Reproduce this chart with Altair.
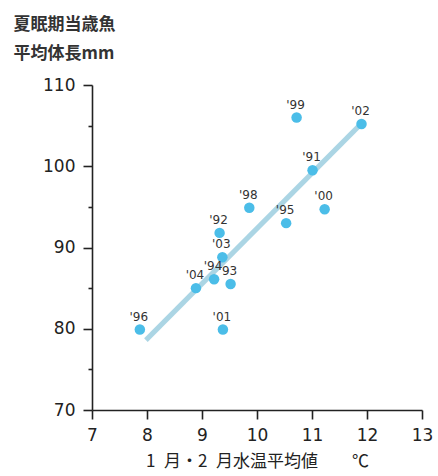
import altair as alt
import pandas as pd

# Fishing years and their Jan-Feb mean water temperature / mean body length
years = ["'91", "'92", "93", "'94", "'95", "'96", "'98", "'99", "'00", "'01", "'02", "'03", "'04"]
water_temp = [11.01, 9.32, 9.52, 9.22, 10.53, 7.87, 9.86, 10.72, 11.23, 9.38, 11.90, 9.37, 8.89]
body_length = [99.5, 91.8, 85.5, 86.1, 93.0, 79.9, 94.9, 106.0, 94.7, 79.9, 105.2, 88.8, 85.0]

# End points of the fitted trend line
fit_temp = [7.98, 11.86]
fit_length = [78.6, 105.0]

pts = pd.DataFrame({"year": years, "temp": water_temp, "length": body_length})
fit = pd.DataFrame({"temp": fit_temp, "length": fit_length})

x_ticks = [v / 2 for v in range(14, 27)]
y_ticks = list(range(70, 111, 5))

AXIS_COLOR = "#222222"
NUM_FONT = "DejaVu Sans"
CJK_FONT = "Noto Sans CJK JP"

x_scale = alt.Scale(domain=[7, 13], nice=False, zero=False)
y_scale = alt.Scale(domain=[70, 110], nice=False, zero=False)

x_axis = alt.Axis(
    values=x_ticks,
    format="d",
    labelExpr="datum.value % 1 == 0 ? datum.label : ''",
    tickSize={"condition": {"test": "datum.value % 1 != 0", "value": 4}, "value": 9},
    grid=False,
    domainColor=AXIS_COLOR, domainWidth=1.6,
    tickColor=AXIS_COLOR, tickWidth=1.6,
    labelFont=NUM_FONT, labelFontSize=17, labelColor=AXIS_COLOR,
    labelPadding=8, labelFlush=False,
    title="1\u2002月・2\u2002月水温平均値\u3000\u3000℃",
    titleFont=CJK_FONT, titleFontSize=17, titleFontWeight="normal",
    titleColor=AXIS_COLOR, titlePadding=10,
)

y_axis = alt.Axis(
    values=y_ticks,
    format="d",
    labelExpr="datum.value % 10 == 0 ? datum.label : ''",
    tickSize={"condition": {"test": "datum.value % 10 != 0", "value": 4}, "value": 9},
    grid=False,
    domainColor=AXIS_COLOR, domainWidth=1.6,
    tickColor=AXIS_COLOR, tickWidth=1.6,
    labelFont=NUM_FONT, labelFontSize=17, labelColor=AXIS_COLOR,
    labelPadding=8, labelFlush=False,
    title=["夏眠期当歳魚", "平均体長mm"],
    titleFont=CJK_FONT, titleFontSize=17, titleFontWeight="bold",
    titleColor="#333333", titleAngle=0, titleAlign="left",
    titleBaseline="top", titleX=-79, titleY=-69, titleLineHeight=29,
)

base_x = alt.X("temp:Q", scale=x_scale, axis=x_axis)
base_y = alt.Y("length:Q", scale=y_scale, axis=y_axis)

trend = alt.Chart(fit).mark_line(
    color="#A6D3E3", strokeWidth=5, strokeCap="butt", opacity=0.95
).encode(x=base_x, y=base_y)

dots = alt.Chart(pts).mark_circle(
    size=110, color="#4BBDE8", opacity=1
).encode(x=alt.X("temp:Q", scale=x_scale), y=alt.Y("length:Q", scale=y_scale))

labels = alt.Chart(pts).mark_text(
    font=NUM_FONT, fontSize=12, color="#333333", dy=-13, dx=-1, baseline="middle"
).encode(
    x=alt.X("temp:Q", scale=x_scale),
    y=alt.Y("length:Q", scale=y_scale),
    text="year:N",
)

chart = (
    alt.layer(trend, dots, labels)
    .properties(
        width=330,
        height=325,
        autosize=alt.AutoSizeParams(type="none"),
        padding={"left": 92, "top": 85, "right": 16, "bottom": 66},
        background="white",
    )
    .configure_view(stroke=None)
)

chart.save("out.html", embed_options={"renderer": "svg", "actions": False})
